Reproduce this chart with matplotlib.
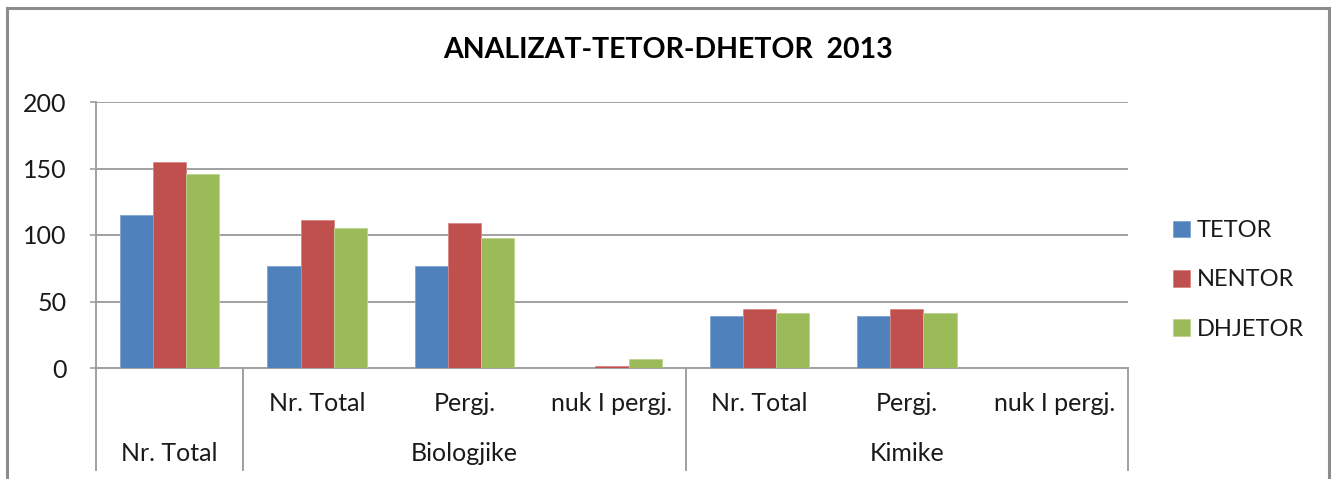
"""
ANALIZAT-TETOR-DHETOR 2013 -- grouped bars with a two-level category axis.
"""
import matplotlib
matplotlib.use("Agg")
import matplotlib.pyplot as plt
from matplotlib.patches import Rectangle
import numpy as np

plt.rcParams["font.family"] = ["Lato", "DejaVu Sans"]

title = "ANALIZAT-TETOR-DHETOR  2013"
subcats = ["", "Nr. Total", "Pergj.", "nuk I pergj.",
           "Nr. Total", "Pergj.", "nuk I pergj."]
groups = ["Nr. Total", "Biologjike", "Kimike"]
group_spans = [(0, 0), (1, 3), (4, 6)]
series = ["TETOR", "NENTOR", "DHJETOR"]
tetor = [115, 77, 77, 0, 39, 39, 0]
nentor = [155, 111, 109, 1.5, 44, 44, 0]
dhjetor = [146, 105, 98, 7, 41, 41, 0]
colors = ["#4F81BD", "#C0504D", "#9BBB59"]
edges = ["#7FA3D3", "#D98583", "#BBD48C"]

W, H = 1336, 479
fig = plt.figure(figsize=(W / 100, H / 100), dpi=100)
ax = fig.add_axes([96 / W, 1 - 368 / H, (1128 - 96) / W, (368 - 102) / H])

x = np.arange(len(subcats))
bw = 0.225
for i, vals in enumerate([tetor, nentor, dhjetor]):
    ax.bar(x + (i - 1) * bw, vals, bw, color=colors[i], edgecolor=edges[i],
           linewidth=0.6, label=series[i], zorder=3)

ax.set_xlim(-0.5, len(subcats) - 0.5)
ax.set_ylim(0, 200)
ax.set_yticks([0, 50, 100, 150, 200])
ax.tick_params(axis="y", length=4, width=1.2, color="#A0A0A0", pad=17,
               labelsize=18, labelcolor="#1A1A1A")
ax.set_xticks([])
ax.grid(axis="y", color="#A0A0A0", linewidth=1.4, zorder=0)
for s in ["top", "right"]:
    ax.spines[s].set_visible(False)
ax.spines["left"].set_color("#A0A0A0")
ax.spines["left"].set_linewidth(1.4)
ax.spines["bottom"].set_color("#A0A0A0")
ax.spines["bottom"].set_linewidth(1.4)

# two-level category axis below the plot
trans = ax.get_xaxis_transform()
bottom = -(470 - 368) / 266
for b in [-0.5, 0.5, 3.5, 6.5]:
    ax.plot([b, b], [0, bottom], transform=trans, color="#A0A0A0",
            linewidth=1.4, clip_on=False)
for xi, lab in zip(x, subcats):
    ax.text(xi, -0.135, lab, transform=trans, ha="center", va="center",
            fontsize=18, color="#1A1A1A")
for (a, b), lab in zip(group_spans, groups):
    ax.text((a + b) / 2, -0.32, lab, transform=trans, ha="center",
            va="center", fontsize=18, color="#1A1A1A")

fig.text(668 / W, 1 - 50 / H, title, ha="center", va="center",
         fontsize=20.5, fontweight="bold", color="#000000")

leg = fig.legend(loc="center left", bbox_to_anchor=(1152 / W, 1 - 280 / H),
                 frameon=False, fontsize=17, handlelength=0.7,
                 handleheight=0.7, handletextpad=0.3, labelspacing=1.2)
for t in leg.get_texts():
    t.set_color("#1A1A1A")

fig.patches.append(Rectangle((7 / W, -0.05), (1329 - 7) / W, 1.05 - 8 / H,
                             transform=fig.transFigure, fill=False,
                             edgecolor="#8C8C8C", linewidth=2.2))

fig.savefig("out.png", dpi=100)
